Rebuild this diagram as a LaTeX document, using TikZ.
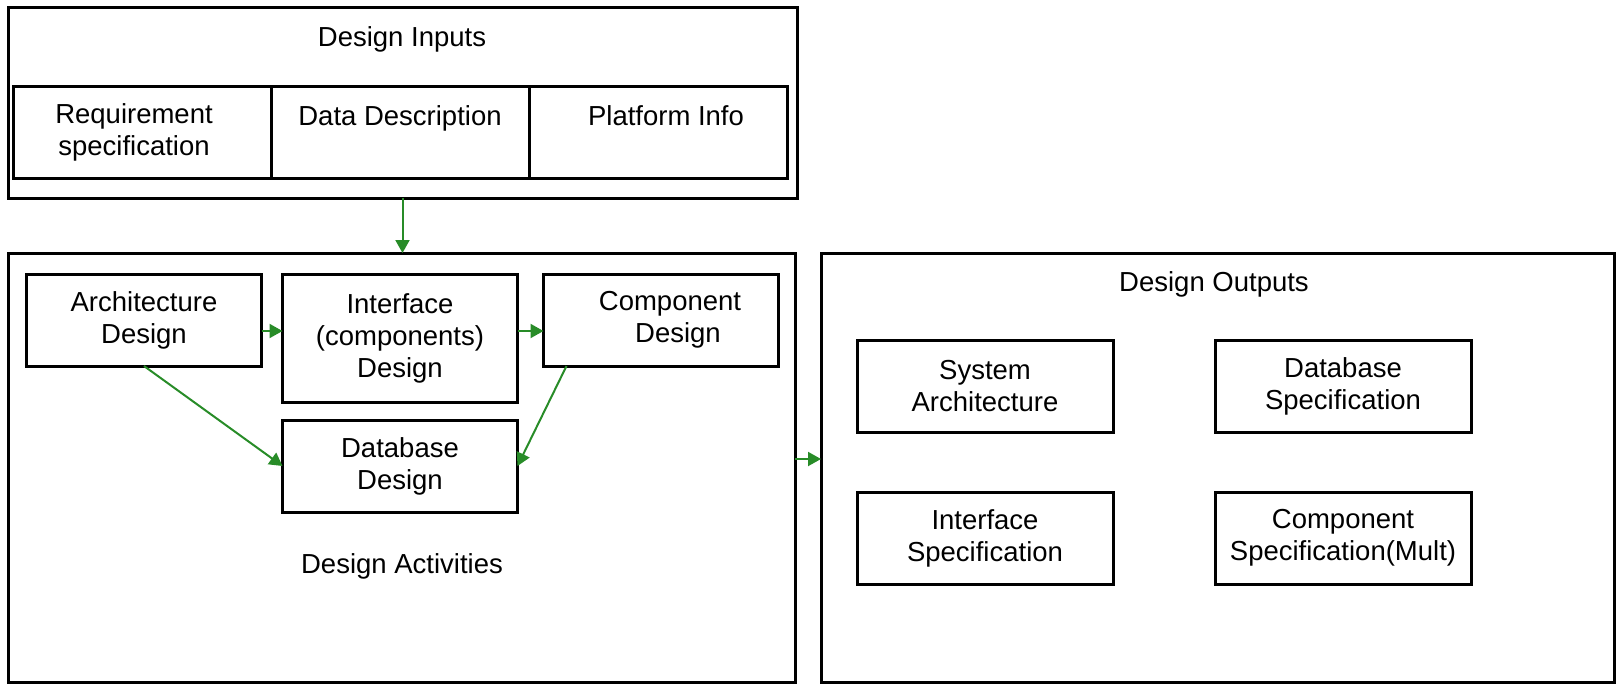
\documentclass[tikz,border=0pt]{standalone}
\usepackage{fontspec}
\setmainfont{Liberation Sans}
\usetikzlibrary{positioning, arrows.meta}
\definecolor{flowgreen}{RGB}{40,140,40}
\tikzset{
  x=0.5pt, y=-0.5pt,
  every node/.style={font=\fontsize{13.75}{16}\selectfont, align=center, inner sep=0pt},
  frame/.style={draw, line width=1.5pt, outer sep=0pt},
  box/.style={draw, line width=1.5pt, outer sep=0pt, minimum width=117.5pt, minimum height=46pt},
  outbox/.style={box, minimum width=128pt},
  flow/.style={draw=flowgreen, line width=1pt, -{Triangle[length=6.5pt,width=7pt]}},
}

\begin{document}
\begin{tikzpicture}
      \useasboundingbox (0,0) rectangle (1622,686);
      % the three frames
      \node[frame, minimum width=394.5pt, minimum height=95.5pt] (inputs) at (402.5,102.5) {};
      \node[frame, minimum width=393.5pt, minimum height=214.5pt] (activities) at (401.5,467.5) {};
      \node[frame, minimum width=396.5pt, minimum height=214.5pt] (outputs) at (1217.5,467.5) {};
      \node (intitle) at (402,39) {Design Inputs};
      \node (actitle) at (402,566) {Design Activities};
      \node (outtitle) at (1214,284) {Design Outputs};
      % inputs
      \node[box, minimum width=129pt] (req) at (142,132) {Requirement\hspace*{8pt}\\specification\hspace*{8pt}};
      \node[box, minimum width=129pt, right=0pt of req] (data) {Data Description\\\mbox{}};
      \node[box, minimum width=129pt, right=0pt of data] (platform) {\hspace*{8pt}Platform Info\\\mbox{}};
      % activities
      \node[box] (arch) at (144,320) {Architecture\\Design};
      \node[box, minimum height=64pt, right=10.5pt of arch.north east, anchor=north west] (iface) {Interface\\(components)\\Design};
      \node[box, right=13pt of iface.north east, anchor=north west] (comp) {\hspace*{9pt}Component\\\hspace*{17pt}Design};
      \node[box, below=9pt of iface] (dbdesign) {Database\\Design};
      % outputs
      \node[outbox] (sysarch) at (985,386) {System\\Architecture};
      \node[outbox, right=51pt of sysarch] (dbspec) {Database\\Specification};
      \node[outbox, below=30pt of sysarch] (ispec) {Interface\\Specification};
      \node[outbox, below=30pt of dbspec] (cspec) {Component\\Specification(Mult)};
      % connectors
      \coordinate (k1) at ([yshift=-5.5pt]arch.east);
      \coordinate (k2) at ([yshift=4.25pt]activities.east);
      \draw (inputs.south) edge[flow] (inputs.south |- activities.north);
      \draw (k1) edge[flow] (k1 -| iface.west);
      \draw (k1 -| iface.east) edge[flow] (k1 -| comp.west);
      \draw (arch.south) edge[flow] (dbdesign.west);
      \draw ([xshift=11.5pt]comp.south west) edge[flow] (dbdesign.east);
      \draw (k2) edge[flow] (k2 -| outputs.west);
    \end{tikzpicture}
\end{document}
